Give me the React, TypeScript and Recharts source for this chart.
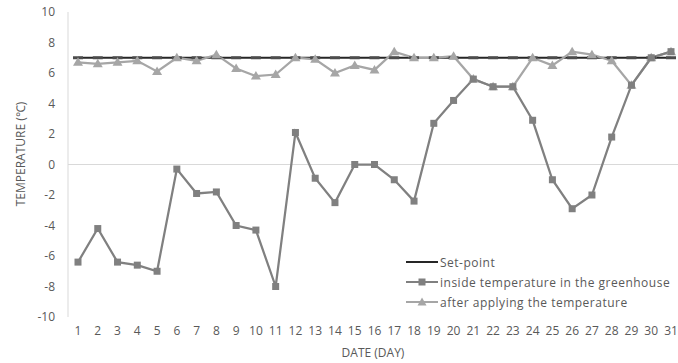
import React from 'react';
import { LineChart, Line, XAxis, YAxis, ReferenceLine } from 'recharts';

// Days of the month (category axis)
const days: string[] = Array.from({ length: 31 }, (_, i) => String(i + 1));

// Temperature set-point (°C)
const setPoint: number[] = [
  7, 7, 7, 7, 7, 7, 7, 7, 7, 7, 7, 7, 7, 7, 7, 7,
  7, 7, 7, 7, 7, 7, 7, 7, 7, 7, 7, 7, 7, 7, 7,
];

// Inside temperature in the greenhouse (°C)
const insideTemp: number[] = [
  -6.4, -4.2, -6.4, -6.6, -7.0, -0.3, -1.9, -1.8, -4.0, -4.3, -8.0,
  2.1, -0.9, -2.5, 0.0, 0.0, -1.0, -2.4, 2.7, 4.2, 5.6, 5.1, 5.1,
  2.9, -1.0, -2.9, -2.0, 1.8, 5.2, 7.0, 7.4,
];

// Temperature after applying the control (°C)
const afterTemp: number[] = [
  6.7, 6.6, 6.7, 6.8, 6.1, 7.0, 6.8, 7.2, 6.3, 5.8, 5.9,
  7.0, 6.9, 6.0, 6.5, 6.2, 7.4, 7.0, 7.0, 7.1, 5.6, 5.1, 5.1,
  7.0, 6.5, 7.4, 7.2, 6.8, 5.2, 7.0, 7.4,
];

const yTicks: number[] = [-10, -8, -6, -4, -2, 0, 2, 4, 6, 8, 10];

const seriesNames: string[] = [
  'Set-point',
  'inside temperature in the greenhouse',
  'after applying the temperature',
];

const yTitle = 'TEMPERATURE  (℃)';
const xTitle = 'DATE  (DAY)';

const data = days.map((d, i) => ({
  day: d,
  setPoint: setPoint[i],
  inside: insideTemp[i],
  after: afterTemp[i],
}));

const FONT = '"Open Sans", "Liberation Sans", sans-serif';
const TEXT = '#595959';
const SET_COLOR = '#262626';
const INSIDE_COLOR = '#808080';
const AFTER_COLOR = '#a6a6a6';

const DashDot = (props: any) => {
  const { cx, cy } = props;
  if (cx == null || cy == null) return null;
  return <rect x={cx - 5} y={cy - 1.5} width={10} height={3} fill="#4d4d4d" />;
};

const SquareDot = (props: any) => {
  const { cx, cy } = props;
  if (cx == null || cy == null) return null;
  return <rect x={cx - 3.5} y={cy - 3.5} width={7} height={7} fill={INSIDE_COLOR} />;
};

const TriangleDot = (props: any) => {
  const { cx, cy } = props;
  if (cx == null || cy == null) return null;
  return (
    <polygon
      points={`${cx},${cy - 5} ${cx + 5},${cy + 3.5} ${cx - 5},${cy + 3.5}`}
      fill={AFTER_COLOR}
    />
  );
};

const LegendSample = ({ kind }: { kind: number }) => (
  <svg width={32} height={10} style={{ display: 'block' }}>
    <line
      x1={0}
      y1={5}
      x2={32}
      y2={5}
      stroke={kind === 0 ? SET_COLOR : kind === 1 ? INSIDE_COLOR : AFTER_COLOR}
      strokeWidth={2}
    />
    {kind === 1 && <rect x={12.5} y={1.5} width={7} height={7} fill={INSIDE_COLOR} />}
    {kind === 2 && <polygon points="16,0.5 20.5,8.5 11.5,8.5" fill={AFTER_COLOR} />}
  </svg>
);

export default function App() {
  return (
    <div
      style={{
        position: 'absolute',
        left: 0,
        top: 0,
        width: 678,
        height: 363,
        overflow: 'hidden',
        background: '#ffffff',
        fontFamily: FONT,
      }}
    >
      <LineChart
        width={690}
        height={363}
        data={data}
        margin={{ top: 12, right: 9, left: 8, bottom: 16 }}
      >
        <XAxis
          dataKey="day"
          interval={0}
          padding={{ left: 10, right: 10 }}
          axisLine={false}
          tickLine={false}
          tickSize={0}
          tickMargin={9}
          height={30}
          tick={{ fill: TEXT, fontSize: 12, fontFamily: FONT }}
        />
        <YAxis
          domain={[-10, 10]}
          ticks={yTicks}
          width={60}
          axisLine={{ stroke: '#d9d9d9' }}
          tickLine={false}
          tickSize={0}
          tickMargin={13}
          tick={{ fill: TEXT, fontSize: 12, fontFamily: FONT }}
        />
        <ReferenceLine y={0} stroke="#d9d9d9" strokeWidth={1} />
        <Line
          dataKey="setPoint"
          name={seriesNames[0]}
          stroke={SET_COLOR}
          strokeWidth={2}
          dot={<DashDot />}
          activeDot={false}
          isAnimationActive={false}
        />
        <Line
          dataKey="after"
          name={seriesNames[2]}
          stroke={AFTER_COLOR}
          strokeWidth={2.25}
          dot={<TriangleDot />}
          activeDot={false}
          isAnimationActive={false}
        />
        <Line
          dataKey="inside"
          name={seriesNames[1]}
          stroke={INSIDE_COLOR}
          strokeWidth={2.25}
          dot={<SquareDot />}
          activeDot={false}
          isAnimationActive={false}
        />
      </LineChart>

      {/* Y axis title */}
      <div
        style={{
          position: 'absolute',
          left: 20,
          top: 154,
          transform: 'translate(-50%, -50%) rotate(-90deg)',
          whiteSpace: 'nowrap',
          fontSize: 12,
          color: TEXT,
        }}
      >
        {yTitle}
      </div>

      {/* X axis title */}
      <div
        style={{
          position: 'absolute',
          left: 373,
          top: 352,
          transform: 'translate(-50%, -50%)',
          whiteSpace: 'nowrap',
          fontSize: 12,
          color: TEXT,
        }}
      >
        {xTitle}
      </div>

      {/* Legend */}
      <div style={{ position: 'absolute', left: 406, top: 252 }}>
        {[0, 1, 2].map((k) => (
          <div
            key={k}
            style={{ display: 'flex', alignItems: 'center', height: 20 }}
          >
            <LegendSample kind={k} />
            <span
              style={{
                marginLeft: 2,
                fontSize: 12,
                color: TEXT,
                whiteSpace: 'nowrap',
                letterSpacing: 0.5,
              }}
            >
              {seriesNames[k]}
            </span>
          </div>
        ))}
      </div>
    </div>
  );
}
